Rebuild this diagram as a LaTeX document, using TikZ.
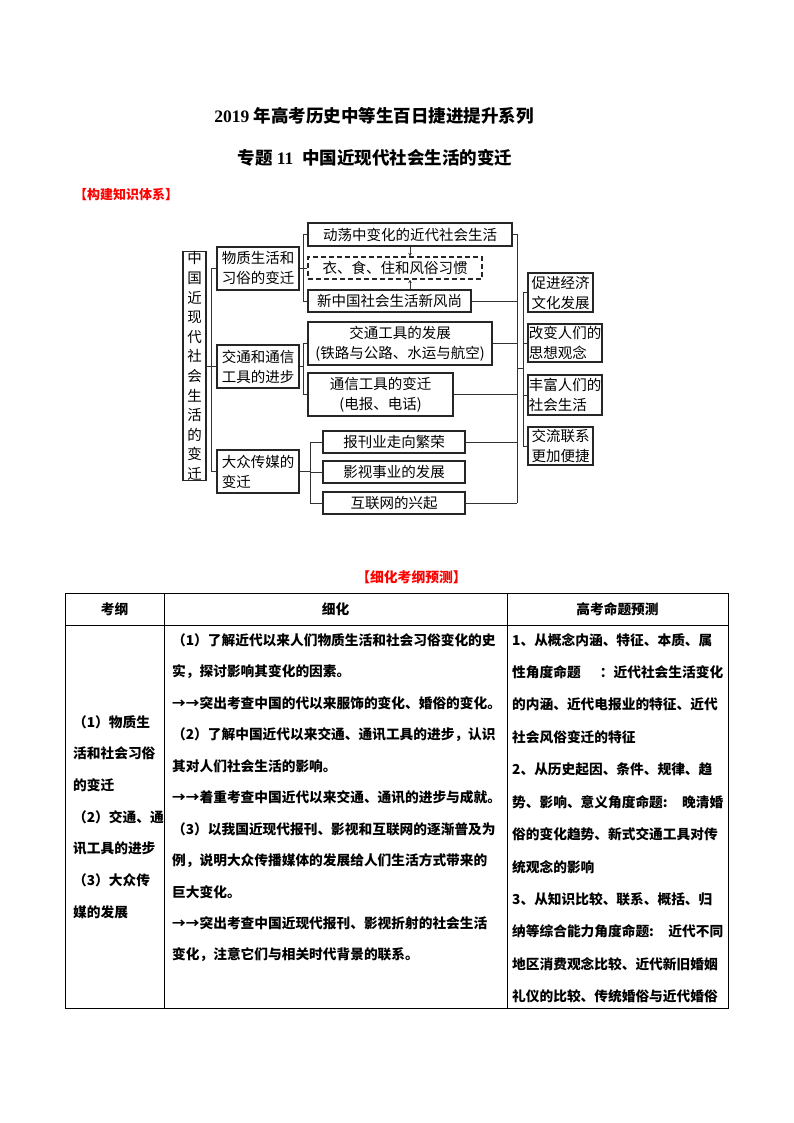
\documentclass[tikz,border=0pt]{standalone}
\usepackage{fontspec}
\usetikzlibrary{arrows.meta}
\setmainfont{Liberation Serif}
\newfontfamily\cjk{Noto Sans CJK SC}
\XeTeXlinebreaklocale "zh"
\XeTeXlinebreakskip=0pt plus 4pt
\newcommand\jline[2]{\makebox[#1][s]{#2}}
\begin{document}
\begin{tikzpicture}[x=1pt,y=-1pt,
  box/.style={draw=black!85, line width=1.3pt, inner sep=0pt, align=center,
    font=\cjk\fontsize{14.5}{20}\selectfont},
  dbox/.style={box, dashed, dash pattern=on 5pt off 3pt},
  conn/.style={draw=black!80, line width=0.8pt},
  arr/.style={draw=black!80, line width=0.8pt, -{Stealth[length=3.5pt,width=3.5pt]}},
  cell/.style={anchor=west, inner sep=0pt, font=\cjk\bfseries\fontsize{13.7}{16}\selectfont},
  head/.style={inner sep=0pt, font=\cjk\bfseries\fontsize{13.7}{16}\selectfont},
  tline/.style={draw=black, line width=0.9pt}]
\useasboundingbox[fill=white] (0,0) rectangle (794,1123);

% titles
\node[inner sep=0pt, font=\bfseries\fontsize{17.5}{20}\selectfont] (t1) at (374,116) {2019 {\cjk 年高考历史中等生百日捷进提升系列}};
\node[inner sep=0pt, font=\bfseries\fontsize{17.5}{20}\selectfont] (t2) at (375,158) {{\cjk 专题} 11\hspace{9pt}{\cjk 中国近现代社会生活的变迁}};
\node[anchor=west, inner sep=0pt, text=red, font=\cjk\bfseries\fontsize{13}{14}\selectfont] (s1) at (74,195) {【构建知识体系】};

% diagram boxes
\node[box, minimum width=23pt, minimum height=216pt, font=\cjk\fontsize{14.5}{19.6}\selectfont] (L) at (194.5,366) {中\\国\\近\\现\\代\\社\\会\\生\\活\\的\\变\\迁};
\node[box, minimum width=82pt, minimum height=43pt] (A1) at (258,268.5) {物质生活和\\习俗的变迁};
\node[box, minimum width=82pt, minimum height=43pt] (A2) at (258,366.5) {交通和通信\\工具的进步};
\node[box, minimum width=82pt, minimum height=43pt, align=left] (A3) at (258,471.5) {大众传媒的\\变迁};

\node[box, minimum width=204pt, minimum height=23pt] (B1) at (410,234.5) {动荡中变化的近代社会生活};
\node[dbox, minimum width=174pt, minimum height=22pt] (B2) at (395,268) {衣、食、住和风俗习惯};
\node[box, minimum width=163pt, minimum height=22pt] (B3) at (389.5,301) {新中国社会生活新风尚};

\node[box, minimum width=184pt, minimum height=43pt] (C1) at (400,343.5) {交通工具的发展\\(铁路与公路、水运与航空)};
\node[box, minimum width=145pt, minimum height=43pt] (C2) at (380.5,394.5) {通信工具的变迁\\(电报、电话)};

\node[box, minimum width=142pt, minimum height=22pt] (D1) at (394,442) {报刊业走向繁荣};
\node[box, minimum width=142pt, minimum height=22pt] (D2) at (394,472) {影视事业的发展};
\node[box, minimum width=142pt, minimum height=22pt] (D3) at (394,503) {互联网的兴起};

\node[box, minimum width=65pt, minimum height=39pt] (E1) at (560.5,292.5) {促进经济\\文化发展};
\node[box, minimum width=74pt, minimum height=38pt, align=left] (E2) at (565,343) {改变人们的\\思想观念};
\node[box, minimum width=74pt, minimum height=40pt, align=left] (E3) at (565,395) {丰富人们的\\社会生活};
\node[box, minimum width=65pt, minimum height=38pt] (E4) at (560.5,446) {交流联系\\更加便捷};

% connectors: left trunk
\coordinate (j0) at (211,366);
\draw[conn] (L.east) -- (L.east -| j0);
\draw[conn] (A1.west -| j0) -- (A3.west -| j0);
\draw[conn] (A1.west -| j0) -- (A1.west);
\draw[conn] (A2.west -| j0) -- (A2.west);
\draw[conn] (A3.west -| j0) -- (A3.west);

% bracket A1
\coordinate (j1) at (303,0);
\draw[conn] (A1.east) -- (A1.east -| j1);
\draw[conn] (B1.west -| j1) -- (B3.west -| j1);
\draw[conn] (B1.west -| j1) -- (B1.west);
\draw[conn] (B2.west -| j1) -- (B2.west);
\draw[conn] (B3.west -| j1) -- (B3.west);
\draw[arr] (B1.south) -- (B1.south |- B2.north);
\draw[arr] (B1.south |- B3.north) -- (B1.south |- B2.south);

% bracket A2
\draw[conn] (A2.east) -- (A2.east -| j1);
\draw[conn] (C1.west -| j1) -- (C2.west -| j1);
\draw[conn] (C1.west -| j1) -- (C1.west);
\draw[conn] (C2.west -| j1) -- (C2.west);

% bracket A3
\coordinate (j2) at (310,0);
\draw[conn] (A3.east) -- (A3.east -| j2);
\draw[conn] (D1.west -| j2) -- (D3.west -| j2);
\draw[conn] (D1.west -| j2) -- (D1.west);
\draw[conn] (D2.west -| j2) -- (D2.west);
\draw[conn] (D3.west -| j2) -- (D3.west);

% right trunk
\coordinate (j3) at (517,0);
\draw[conn] (B1.east -| j3) -- (D3.east -| j3);
\draw[conn] (B1.east) -- (B1.east -| j3);
\draw[conn] (B3.east) -- (B3.east -| j3);
\draw[conn] (C1.east) -- (C1.east -| j3);
\draw[conn] (C2.east) -- (C2.east -| j3);
\draw[conn] (D1.east) -- (D1.east -| j3);
\draw[conn] (D3.east) -- (D3.east -| j3);

% right bracket
\coordinate (j4) at (523,368);
\draw[conn] (j4 -| j3) -- (j4);
\draw[conn] (E1.west -| j4) -- (E4.west -| j4);
\draw[conn] (E1.west -| j4) -- (E1.west);
\draw[conn] (E2.west -| j4) -- (E2.west);
\draw[conn] (E3.west -| j4) -- (E3.west);
\draw[conn] (E4.west -| j4) -- (E4.west);

% table
\node[inner sep=0pt, text=red, font=\cjk\bfseries\fontsize{13.8}{15}\selectfont] (s2) at (411.5,577) {【细化考纲预测】};
\draw[tline] (65,593) rectangle (728,1008);
\draw[tline] (65,625) -- (728,625);
\draw[tline] (164,593) -- (164,1008);
\draw[tline] (507,593) -- (507,1008);
\node[head] (h1) at (114.5,609) {考纲};
\node[head] (h2) at (335.5,609) {细化};
\node[head] (h3) at (617.5,609) {高考命题预测};

% column 1
\node[cell] (k1) at (73,722) {\jline{84pt}{（1）物质生}};
\node[cell] (k2) at (73,753.7) {\jline{84pt}{活和社会习俗}};
\node[cell] (k3) at (73,785.4) {的变迁};
\node[cell] (k4) at (73,817.1) {\jline{84pt}{（2）交通、通}};
\node[cell] (k5) at (73,848.8) {\jline{84pt}{讯工具的进步}};
\node[cell] (k6) at (73,880.5) {\jline{84pt}{（3）大众传}};
\node[cell] (k7) at (73,912.2) {媒的发展};

% column 2
\node[cell] (m1) at (172,640) {\jline{326pt}{（1）了解近代以来人们物质生活和社会习俗变化的史}};
\node[cell] (m2) at (172,671.5) {实，探讨影响其变化的因素。};
\node[cell] (m3) at (172,703) {\jline{326pt}{→→突出考查中国的代以来服饰的变化、婚俗的变化。}};
\node[cell] (m4) at (172,734.5) {\jline{326pt}{（2）了解中国近代以来交通、通讯工具的进步，认识}};
\node[cell] (m5) at (172,766) {其对人们社会生活的影响。};
\node[cell] (m6) at (172,797.5) {\jline{326pt}{→→着重考查中国近代以来交通、通讯的进步与成就。}};
\node[cell] (m7) at (172,829) {\jline{326pt}{（3）以我国近现代报刊、影视和互联网的逐渐普及为}};
\node[cell] (m8) at (172,860.5) {\jline{326pt}{例，说明大众传播媒体的发展给人们生活方式带来的}};
\node[cell] (m9) at (172,892) {巨大变化。};
\node[cell] (m10) at (172,923.5) {\jline{326pt}{→→突出考查中国近现代报刊、影视折射的社会生活}};
\node[cell] (m11) at (172,955) {变化，注意它们与相关时代背景的联系。};

% column 3
\node[cell] (p1) at (512,640) {\jline{211pt}{1、从概念内涵、特征、本质、属}};
\node[cell] (p2) at (512,672.4) {\jline{211pt}{性角度命题 ：近代社会生活变化}};
\node[cell] (p3) at (512,704.8) {\jline{211pt}{的内涵、近代电报业的特征、近代}};
\node[cell] (p4) at (512,737.2) {社会风俗变迁的特征};
\node[cell] (p5) at (512,769.6) {\jline{211pt}{2、从历史起因、条件、规律、趋}};
\node[cell] (p6) at (512,802) {\jline{211pt}{势、影响、意义角度命题: 晚清婚}};
\node[cell] (p7) at (512,834.4) {\jline{211pt}{俗的变化趋势、新式交通工具对传}};
\node[cell] (p8) at (512,866.8) {统观念的影响};
\node[cell] (p9) at (512,899.2) {\jline{211pt}{3、从知识比较、联系、概括、归}};
\node[cell] (p10) at (512,931.6) {\jline{211pt}{纳等综合能力角度命题: 近代不同}};
\node[cell] (p11) at (512,964) {\jline{211pt}{地区消费观念比较、近代新旧婚姻}};
\node[cell] (p12) at (512,996.4) {\jline{211pt}{礼仪的比较、传统婚俗与近代婚俗}};
\end{tikzpicture}
\end{document}
